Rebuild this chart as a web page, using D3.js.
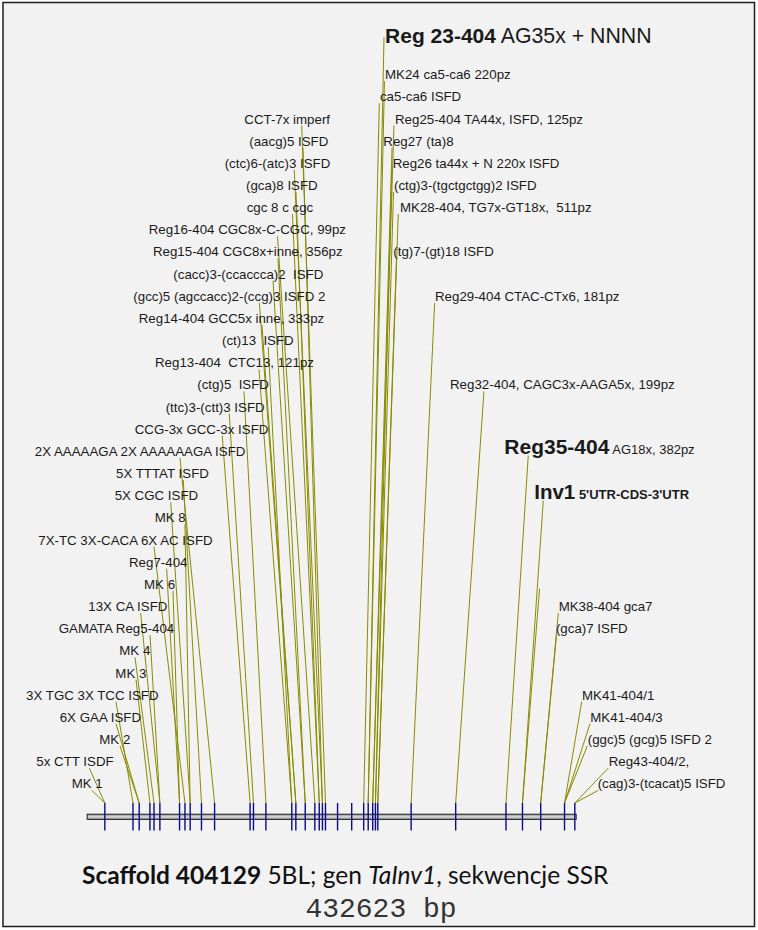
<!DOCTYPE html>
<html>
<head>
<meta charset="utf-8">
<script src="https://cdn.jsdelivr.net/npm/d3@7"></script>
<style>
  body { margin: 0; background: #fff; }
  text { white-space: pre; }
</style>
</head>
<body>
<svg id="chart" width="758" height="930"></svg>
<script>
// scaffold length and SSR marker positions (kb)
const scaffoldBp = 432623;
const markerKb = [15.6, 40.5, 46.0, 55.5, 59.1, 64.3, 81.7, 86.5, 91.1, 101.1, 112.7,
  144.1, 147.1, 158.1, 181.0, 184.6, 192.9, 201.4, 205.3, 208.1, 210.8, 221.5, 234.0,
  244.6, 248.6, 252.6, 255.0, 257.1, 286.6, 326.0, 370.5, 385.1, 401.2, 422.3, 431.4];

// labels: text (head|tail for the big ones), row, marker index, label anchor and leader end (kb)
const labelNames = [
  'CCT-7x imperf', '(aacg)5 ISFD', '(ctc)6-(atc)3 ISFD', '(gca)8 ISFD', 'cgc 8 c cgc',
  'Reg16-404 CGC8x-C-CGC, 99pz', 'Reg15-404 CGC8x+inne, 356pz', '(cacc)3-(ccaccca)2  ISFD',
  '(gcc)5 (agccacc)2-(ccg)3 ISFD 2', 'Reg14-404 GCC5x inne, 333pz', '(ct)13  ISFD',
  'Reg13-404  CTC13, 121pz', '(ctg)5  ISFD', '(ttc)3-(ctt)3 ISFD', 'CCG-3x GCC-3x ISFD',
  '2X AAAAAGA 2X AAAAAAGA ISFD', '5X TTTAT ISFD', '5X CGC ISFD', 'MK 8', '7X-TC 3X-CACA 6X AC ISFD',
  'Reg7-404', 'MK 6', '13X CA ISFD', 'GAMATA Reg5-404', 'MK 4', 'MK 3', '3X TGC 3X TCC ISFD',
  '6X GAA ISFD', 'MK 2', '5x CTT ISDF', 'MK 1',
  'Reg 23-404| AG35x + NNNN', 'MK24 ca5-ca6 220pz', 'ca5-ca6 ISFD', 'Reg25-404 TA44x, ISFD, 125pz',
  'Reg27 (ta)8', 'Reg26 ta44x + N 220x ISFD', '(ctg)3-(tgctgctgg)2 ISFD',
  'MK28-404, TG7x-GT18x,  511pz', '(tg)7-(gt)18 ISFD', 'Reg29-404 CTAC-CTx6, 181pz',
  'Reg32-404, CAGC3x-AAGA5x, 199pz', 'Reg35-404| AG18x, 382pz', "Inv1| 5'UTR-CDS-3'UTR",
  'MK38-404 gca7', '(gca)7 ISFD', 'MK41-404/1', 'MK41-404/3', '(ggc)5 (gcg)5 ISFD 2',
  'Reg43-404/2,', '(cag)3-(tcacat)5 ISFD', ''
];
const labelRows = [0, 1, 2, 3, 4, 5, 6, 7, 8, 9, 10, 11, 12, 13, 14, 15, 16, 17, 18, 19, 20,
  21, 22, 23, 24, 25, 26, 27, 28, 29, 30,
  -3.62, -2, -1, 0, 1, 2, 3, 4, 6, 8, 12, 14.9, 16.93, 22, 23, 26, 27, 28, 29, 30, 20.9];
const labelMarker = [20, 19, 19, 18, 18, 17, 16, 16, 15, 15, 14, 14, 13, 12, 11, 10, 9, 8, 8, 7,
  6, 6, 5, 5, 4, 3, 1, 2, 2, 0, 0,
  24, 24, 23, 25, 25, 26, 26, 27, 27, 28, 29, 30, 31, 32, 32, 33, 33, 33, 34, 34, 31];
const labelAtKb = [139.0, 143.4, 121.6, 140.5, 141.1, 54.4, 58.2, 76.2, 40.8, 45.6, 119.3,
  60.0, 97.4, 69.4, 42.0, -46.4, 25.5, 24.3, 59.7, -43.3, 37.0, 50.3, 1.0, -25.2, 28.4, 24.9,
  -54.1, -24.3, 10.7, -45.0, -13.7,
  263.5, 263.5, 259.0, 272.3, 262.0, 270.3, 271.4, 276.7, 270.8, 307.7, 321.0, 369.0, 395.5,
  417.1, 414.7, 437.7, 445.1, 442.8, 461.4, 451.6, 400.2];
const leaderAtKb = [189.8, 190.9, 183.2, 184.7, 181.6, 168.4, 168.8, 164.4, 152.3, 154.6, 160.2,
  152.0, 138.7, 125.7, 119.5, 82.1, 85.0, 73.9, 86.5, 59.1, 70.3, 75.9, 47.3, 55.6, 42.3, 43.2,
  25.5, 25.5, 29.0, 1.9, 4.0,
  262.6, 263.0, 258.4, 271.4, 269.7, 269.4, 271.0, 275.2, 273.6, 307.4, 351.0, 390.2, 403.5,
  416.8, 415.2, 437.5, 444.8, 442.4, 461.0, 452.2, 400.2];

const titleParts = [['Scaffold 404129', 'bold', 'normal'], [' 5BL; gen ', 'normal', 'normal'],
  ['TaInv1', 'normal', 'italic'], [', sekwencje SSR', 'normal', 'normal']];
const lengthLabel = '432623 bp';

const svg = d3.select('#chart');
const width = +svg.attr('width');
const height = +svg.attr('height');

svg.append('rect').attr('x', 3).attr('y', 2.5).attr('width', width - 6.5).attr('height', height - 6)
  .attr('fill', '#f2f2f2').attr('stroke', '#1e1e1e').attr('stroke-width', 1.5);

const x = d3.scaleLinear().domain([0, scaffoldBp]).range([87.2, 576.2]);
const y = d3.scaleLinear().domain([0, 30]).range([123.5, 788.3]);
const barY = 816.8;
const tickTop = 803;
const tickBottom = 830.5;

// leaders
svg.append('g').selectAll('line')
  .data(labelNames.map((d, i) => i))
  .join('line')
    .attr('x1', i => x(markerKb[labelMarker[i]] * 1000))
    .attr('y1', tickTop)
    .attr('x2', i => x(leaderAtKb[i] * 1000))
    .attr('y2', i => i === 31 ? y(labelRows[i]) - 6 : y(labelRows[i]) + 2)
    .attr('stroke', '#8a8a00')
    .attr('stroke-width', 1);

// scaffold bar
const grad = svg.append('defs').append('linearGradient').attr('id', 'bar')
  .attr('x1', 0).attr('y1', 0).attr('x2', 0).attr('y2', 1);
grad.append('stop').attr('offset', '0%').attr('stop-color', '#8a8a8a');
grad.append('stop').attr('offset', '50%').attr('stop-color', '#dcdcdc');
grad.append('stop').attr('offset', '100%').attr('stop-color', '#8a8a8a');
svg.append('rect')
  .attr('x', x(0)).attr('y', barY - 2.6)
  .attr('width', x(scaffoldBp) - x(0)).attr('height', 5.2)
  .attr('fill', 'url(#bar)').attr('stroke', '#222').attr('stroke-width', 1);

// marker ticks
svg.append('g').selectAll('line')
  .data(markerKb)
  .join('line')
    .attr('x1', d => x(d * 1000)).attr('x2', d => x(d * 1000))
    .attr('y1', tickTop).attr('y2', tickBottom)
    .attr('stroke', '#0a0a8c')
    .attr('stroke-width', 1.4);

// labels
const labels = svg.append('g')
  .attr('font-family', '"Liberation Sans", Arial, sans-serif')
  .attr('fill', '#1a1a1a');
labelNames.forEach((name, i) => {
  if (!name) return;
  const t = labels.append('text')
    .attr('x', x(labelAtKb[i] * 1000))
    .attr('y', y(labelRows[i]))
    .attr('font-size', 13.3);
  const [head, tail] = name.split('|');
  if (tail === undefined) { t.text(head); return; }
  const bigHead = i === 31 ? 21 : i === 42 ? 21 : 20.5;
  t.append('tspan').attr('font-size', bigHead).attr('font-weight', 'bold').text(head);
  t.append('tspan')
    .attr('font-size', i === 31 ? 21.3 : 13)
    .attr('font-weight', i === 43 ? 'bold' : 'normal')
    .text(tail);
});

// caption
const title = svg.append('text')
  .attr('x', 82).attr('y', 884)
  .attr('font-family', 'Lato, "Open Sans", sans-serif')
  .attr('font-size', 24.5)
  .attr('fill', '#111');
titleParts.forEach(([s, w, st]) => {
  title.append('tspan').attr('font-weight', w).attr('font-style', st).text(s);
});
svg.append('text')
  .attr('x', 381).attr('y', 917)
  .attr('text-anchor', 'middle')
  .attr('font-family', '"Liberation Mono", "Courier New", monospace')
  .attr('font-size', 28)
  .attr('fill', '#333')
  .text(lengthLabel);
</script>
</body>
</html>
